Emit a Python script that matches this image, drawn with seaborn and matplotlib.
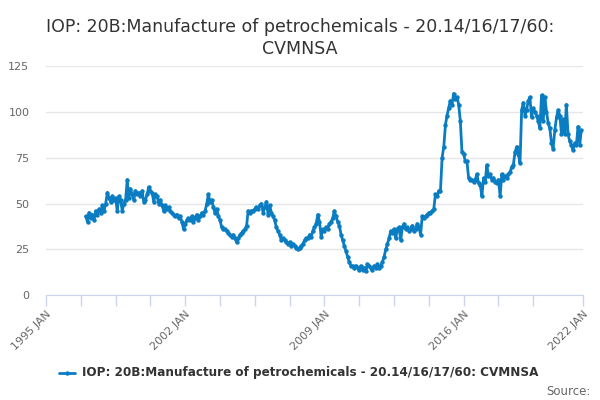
import pandas as pd
import seaborn as sns
import matplotlib.pyplot as plt

# monthly index values, Jan 1997 - Dec 2021, one list per year
v1997 = [43, 40, 45, 42, 44, 41, 46, 44, 47, 45, 49, 46]
v1998 = [50, 56, 53, 51, 54, 52, 53, 46, 54, 52, 46, 50]
v1999 = [52, 63, 53, 58, 55, 52, 57, 55, 56, 54, 57, 51]
v2000 = [52, 55, 59, 57, 56, 51, 55, 54, 50, 52, 49, 46]
v2001 = [49, 47, 48, 46, 45, 44, 43, 44, 42, 43, 40, 36]
v2002 = [39, 41, 42, 41, 43, 40, 42, 44, 41, 43, 45, 44]
v2003 = [46, 50, 55, 51, 52, 48, 45, 47, 43, 41, 37, 36]
v2004 = [36, 35, 34, 33, 32, 33, 31, 29, 31, 33, 34, 35]
v2005 = [36, 38, 46, 45, 46, 46, 47, 48, 47, 49, 50, 45]
v2006 = [48, 51, 44, 49, 45, 43, 41, 37, 35, 33, 30, 31]
v2007 = [30, 29, 28, 29, 27, 28, 27, 26, 25, 26, 27, 28]
v2008 = [30, 31, 31, 33, 32, 35, 37, 39, 44, 40, 32, 36]
v2009 = [35, 37, 36, 39, 40, 42, 46, 43, 40, 38, 33, 30]
v2010 = [27, 24, 21, 18, 16, 16, 15, 16, 15, 14, 16, 14]
v2011 = [15, 13, 17, 16, 15, 14, 16, 15, 17, 15, 16, 18]
v2012 = [21, 25, 28, 31, 35, 34, 36, 31, 36, 37, 30, 37]
v2013 = [39, 36, 37, 35, 36, 38, 35, 36, 39, 37, 33, 43]
v2014 = [42, 43, 44, 45, 45, 46, 47, 55, 54, 57, 57, 75]
v2015 = [81, 93, 98, 102, 106, 104, 110, 107, 108, 104, 95, 78]
v2016 = [77, 73, 73, 64, 63, 63, 62, 63, 66, 61, 60, 54]
v2017 = [64, 62, 71, 65, 66, 63, 64, 62, 61, 63, 54, 66]
v2018 = [63, 65, 64, 66, 67, 70, 71, 78, 81, 77, 72, 101]
v2019 = [105, 98, 101, 106, 108, 97, 102, 100, 98, 95, 91, 109]
v2020 = [95, 108, 100, 94, 91, 83, 80, 90, 97, 101, 98, 88]
v2021 = [96, 88, 104, 88, 84, 82, 79, 83, 82, 92, 82, 90]

yearly = [v1997, v1998, v1999, v2000, v2001, v2002, v2003, v2004, v2005,
          v2006, v2007, v2008, v2009, v2010, v2011, v2012, v2013, v2014,
          v2015, v2016, v2017, v2018, v2019, v2020, v2021]
values = [v for yr in yearly for v in yr]
dates = pd.date_range('1997-01-01', periods=len(values), freq='MS')

series_name = 'IOP: 20B:Manufacture of petrochemicals - 20.14/16/17/60: CVMNSA'
df = pd.DataFrame({'date': dates, 'value': values, 'series': series_name})

sns.set_style('white')
plt.rcParams['font.family'] = ['DejaVu Sans']

blue = '#0a7cc1'
fig = plt.figure(figsize=(6, 4), dpi=100)
ax = fig.add_axes([0.0767, 0.262, 0.895, 0.573])

sns.lineplot(data=df, x='date', y='value', hue='series', palette=[blue],
             marker='o', markersize=3.2, markeredgewidth=0, linewidth=2,
             ax=ax, legend=False)

ax.set_xlim(pd.Timestamp('1995-01-01'), pd.Timestamp('2022-01-01'))
ax.set_ylim(0, 125)
ax.set_yticks([0, 25, 50, 75, 100, 125])
ax.yaxis.grid(True, color='#e6e6e6', linewidth=1)
ax.set_axisbelow(True)

ticks = list(pd.date_range('1995-01-01', '2021-01-01', freq='21MS')) + [pd.Timestamp('2022-01-01')]
labelled = {'1995-01', '2002-01', '2009-01', '2016-01', '2022-01'}
ax.set_xticks(ticks)
ax.set_xticklabels([t.strftime('%Y JAN') if t.strftime('%Y-%m') in labelled else '' for t in ticks],
                   rotation=45, ha='right', rotation_mode='anchor', color='#666666', fontsize=8)
ax.tick_params(axis='x', direction='out', length=8, color='#ccd6eb', width=1, pad=2, bottom=True)
ax.tick_params(axis='y', length=0, labelcolor='#666666', labelsize=8, pad=12)

for s in ['top', 'right', 'left']:
    ax.spines[s].set_visible(False)
ax.spines['bottom'].set_color('#ccd6eb')
ax.set_xlabel('')
ax.set_ylabel('')

fig.text(0.5, 0.955, 'IOP: 20B:Manufacture of petrochemicals - 20.14/16/17/60:\nCVMNSA',
         ha='center', va='top', fontsize=12.5, color='#333333', linespacing=1.25)

# legend
fig.lines.append(plt.Line2D([0.098, 0.125], [0.068, 0.068], color=blue, linewidth=2,
                            transform=fig.transFigure))
fig.lines.append(plt.Line2D([0.1115], [0.068], color=blue, marker='o', markersize=3.2,
                            markeredgewidth=0, transform=fig.transFigure))
fig.text(0.136, 0.068, series_name, ha='left', va='center', fontsize=8.65,
         fontweight='bold', color='#333333')
fig.text(0.985, 0.022, 'Source:', ha='right', va='center', fontsize=8.5, color='#666666')

fig.savefig('out.png', dpi=100)
